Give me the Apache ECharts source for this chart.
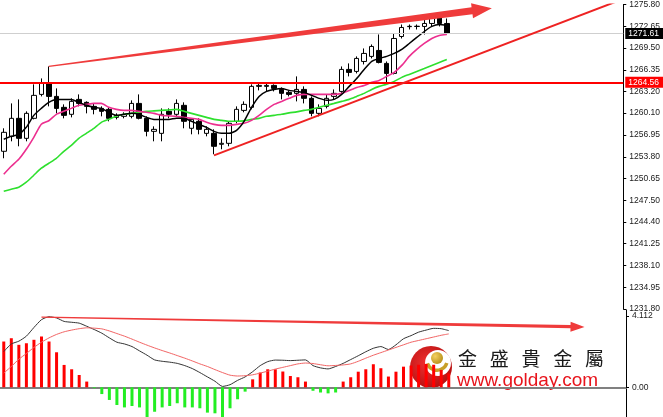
<!DOCTYPE html>
<html><head><meta charset="utf-8">
<style>html,body{margin:0;padding:0;background:#fff}#c{width:663px;height:417px}</style>
<script src="https://cdn.jsdelivr.net/npm/echarts@6/dist/echarts.min.js"></script>
</head><body><div id="c"></div>
<script>
// ---- data ----
const categories = Array.from({length: 83}, (_, i) => 'B' + (i + 1));
const opens = [1254.59,1256.75,1259.35,1256.46,1259.35,1262.81,1264.40,1262.52,1260.94,1259.93,
 1262.09,1261.66,1261.08,1260.79,1260.65,1259.49,1259.64,1259.64,1261.51,1259.35,
 1257.47,1257.18,1260.36,1259.93,1261.23,1257.91,1258.92,1257.18,1257.18,1255.60,
 1255.74,1258.92,1260.50,1260.94,1263.97,1263.97,1264.11,1263.53,1263.10,1262.96,
 1263.53,1262.24,1260.07,1261.08,1262.52,1263.24,1266.42,1266.13,1267.57,1268.30,
 1269.16,1267.29,1265.84,1271.18,1272.60,1272.62,1272.63,1273.06,1274.07,1273.06];
const closes = [1257.33,1259.35,1256.46,1260.07,1262.67,1264.40,1262.52,1260.79,1259.78,1261.80,
 1261.51,1261.08,1260.65,1260.36,1259.35,1259.78,1259.93,1261.51,1259.35,1257.47,
 1257.76,1259.93,1259.93,1261.51,1258.92,1259.20,1257.76,1257.76,1255.31,1255.74,
 1258.63,1260.65,1261.37,1263.97,1264.11,1264.11,1263.68,1262.96,1262.81,1263.53,
 1262.24,1260.07,1260.79,1262.24,1262.96,1266.42,1265.99,1268.01,1268.73,1269.74,
 1267.43,1265.84,1270.89,1272.48,1272.65,1272.66,1273.06,1274.07,1273.06,1271.61];
const lows = [1253.58,1256.03,1255.31,1256.03,1259.20,1262.52,1261.08,1260.07,1259.35,1259.49,
 1261.08,1260.07,1259.93,1259.64,1258.92,1259.20,1259.35,1259.35,1259.20,1256.75,
 1256.03,1256.03,1259.35,1259.64,1257.91,1257.04,1257.04,1256.75,1254.16,1254.88,
 1255.31,1258.63,1260.22,1260.65,1263.39,1263.24,1263.24,1262.09,1262.52,1261.80,
 1261.51,1259.64,1259.64,1260.79,1262.09,1262.81,1265.41,1265.84,1267.14,1268.01,
 1267.29,1264.40,1265.70,1270.89,1272.19,1272.19,1271.47,1272.63,1272.63,1271.47];
const highs = [1257.91,1261.51,1262.09,1260.36,1264.26,1265.12,1266.85,1263.68,1261.37,1262.24,
 1262.81,1261.80,1261.51,1261.08,1260.94,1260.07,1260.22,1261.95,1262.81,1259.64,
 1258.19,1260.79,1260.79,1262.09,1261.66,1259.35,1259.35,1258.19,1257.76,1256.46,
 1258.92,1261.08,1261.80,1264.26,1264.40,1264.40,1264.26,1263.82,1263.39,1265.41,
 1263.97,1262.52,1261.37,1262.81,1263.53,1266.85,1267.29,1268.30,1269.45,1270.03,
 1271.47,1267.57,1271.61,1272.91,1272.91,1272.91,1273.64,1274.36,1274.36,1273.78];
const maFast = [1256.32,1256.75,1257.04,1258.05,1259.78,1260.79,1261.66,1262.09,1262.09,1262.09,
 1261.66,1261.23,1260.94,1260.79,1260.22,1259.78,1259.93,1260.07,1259.93,1259.49,
 1259.20,1259.20,1259.20,1259.35,1259.35,1258.92,1258.48,1258.05,1257.47,1257.18,
 1257.18,1257.62,1258.92,1260.94,1262.52,1263.24,1263.53,1263.68,1263.39,1263.24,
 1263.10,1262.67,1262.24,1261.95,1262.09,1262.81,1263.97,1265.12,1266.42,1267.57,
 1268.01,1268.30,1268.73,1269.31,1270.17,1271.04,1271.90,1272.63,1272.91,1272.77];
const maMid = [1251.27,1252.42,1253.43,1254.88,1256.61,1258.50,1259.00,1259.93,1260.36,1260.79,
 1261.23,1261.37,1261.51,1261.51,1260.94,1260.65,1260.50,1260.50,1260.36,1260.22,
 1260.07,1259.78,1259.71,1259.64,1259.49,1259.35,1259.20,1258.77,1258.48,1258.34,
 1258.34,1258.48,1258.63,1259.06,1259.78,1260.65,1261.37,1261.80,1262.24,1262.67,
 1262.81,1262.81,1262.81,1262.81,1262.81,1262.96,1263.39,1263.82,1264.11,1264.55,
 1264.83,1265.41,1265.99,1267.00,1268.30,1269.31,1270.17,1270.89,1271.33,1271.47];
const maSlow = [1248.82,1249.11,1249.40,1250.12,1251.13,1252.14,1252.86,1253.58,1254.59,1255.45,
 1256.46,1257.18,1257.91,1258.77,1259.20,1259.64,1259.93,1260.07,1260.22,1260.36,
 1260.43,1260.50,1260.57,1260.65,1260.36,1260.07,1259.78,1259.49,1259.20,1259.06,
 1258.92,1258.92,1258.99,1259.20,1259.35,1259.64,1259.78,1259.93,1260.14,1260.29,
 1260.50,1260.65,1260.94,1261.23,1261.51,1261.80,1262.09,1262.52,1262.96,1263.53,
 1263.97,1264.26,1264.69,1265.27,1265.70,1266.13,1266.56,1267.00,1267.43,1267.86];
const histValues = [2.64,2.83,2.45,2.54,2.74,2.93,2.64,2.02,1.29,1.04,
 0.71,0.33,-0.05,-0.39,-0.73,-1.02,-1.16,-1.08,-1.16,-1.75,
 -1.41,-1.16,-1.08,-0.92,-1.16,-1.16,-1.21,-1.46,-1.5,-1.75,
 -1.21,-0.69,-0.25,0.46,0.85,1.04,1.04,0.91,0.65,0.58,
 0.33,-0.2,-0.3,-0.35,-0.3,0.33,0.58,0.9,1.04,1.33,
 1.1,0.62,0.9,1.19,1.25,1.3,1.35,1.3,1.0,0.8];
const macdLine = [2.06,2.5,2.66,2.95,3.45,3.9,4.07,4.0,3.8,3.75,
 3.7,3.52,3.33,3.12,2.85,2.6,2.5,2.35,2.1,1.85,
 1.58,1.5,1.45,1.38,1.25,1.08,0.85,0.6,0.35,0.05,
 0.15,0.4,0.6,0.9,1.25,1.48,1.57,1.56,1.54,1.56,
 1.58,1.25,1.12,1.06,1.2,1.38,1.6,1.82,2.05,2.25,
 2.35,2.18,2.45,2.8,2.98,3.18,3.3,3.4,3.38,3.27];
const signalLine = [0.82,1.2,1.62,1.95,2.3,2.6,2.85,3.05,3.2,3.3,
 3.38,3.43,3.41,3.37,3.25,3.1,2.95,2.78,2.6,2.43,
 2.27,2.12,1.98,1.83,1.68,1.52,1.35,1.2,1.02,0.85,
 0.7,0.65,0.67,0.72,0.82,0.93,1.05,1.15,1.25,1.35,
 1.4,1.37,1.3,1.24,1.26,1.29,1.35,1.5,1.68,1.85,
 2.0,2.15,2.3,2.45,2.6,2.7,2.8,2.9,3.0,3.08];
const priceTickLabels = ['1231.80','1234.95','1238.10','1241.25','1244.40','1247.50','1250.65','1253.80',
 '1256.95','1260.10','1263.20','1266.35','1269.50','1272.65','1275.80'];
const macdTickLabels = ['4.112','0.00'];
const lastPrice = 1271.61;
const levelPrice = 1264.56;
const trendLine = [[28, 1254.0], [82, 1276.4]];
const arrowMain = [[6, 1266.85, 65, 1275.27]];
const arrowMacd = [[5, 4.05, 77, 3.48]];

// ---- build ----
const candleData = opens.map((o, i) => [o, closes[i], lows[i], highs[i]]);
const priceTickVals = priceTickLabels.map(Number);
const macdTickVals = macdTickLabels.map(Number);
const labelFont = {fontSize: 8.5, fontFamily: 'Liberation Sans', color: '#1a1a1a'};

function arrowRenderer(cfg) {
  return function (params, api) {
    const a = api.coord([api.value(0), api.value(1)]);
    const b = api.coord([api.value(2), api.value(3)]);
    const dx = b[0] - a[0], dy = b[1] - a[1];
    const L = Math.hypot(dx, dy);
    const ux = dx / L, uy = dy / L, nx = -uy, ny = ux;
    const bx = b[0] - ux * cfg.head, by = b[1] - uy * cfg.head;
    const pts = [
      [a[0] + nx * cfg.w0, a[1] + ny * cfg.w0],
      [bx + nx * cfg.w1, by + ny * cfg.w1],
      [bx + nx * cfg.hw, by + ny * cfg.hw],
      [b[0], b[1]],
      [bx - nx * cfg.hw, by - ny * cfg.hw],
      [bx - nx * cfg.w1, by - ny * cfg.w1],
      [a[0] - nx * cfg.w0, a[1] - ny * cfg.w0]
    ];
    return {type: 'polygon', shape: {points: pts}, style: {fill: cfg.color}};
  };
}

const chart = echarts.init(document.getElementById('c'), null, {renderer: 'canvas'});
chart.setOption({
  animation: false,
  backgroundColor: '#ffffff',
  grid: [
    {left: -2, right: 37, top: 1, bottom: 108},
    {left: -2, right: 37, top: 310, bottom: 0}
  ],
  xAxis: [
    {type: 'category', gridIndex: 0, data: categories, boundaryGap: true, show: false},
    {type: 'category', gridIndex: 1, data: categories, boundaryGap: true, position: 'top',
     axisLine: {show: true, lineStyle: {color: '#808080', width: 2}},
     axisTick: {show: false}, axisLabel: {show: false}, splitLine: {show: false}}
  ],
  yAxis: [
    {type: 'value', gridIndex: 0, position: 'right', min: 1231.8, max: 1275.8, scale: true,
     axisLine: {show: true, lineStyle: {color: '#000', width: 1}},
     axisTick: {show: true, length: 3, customValues: priceTickVals, lineStyle: {color: '#000'}},
     axisLabel: Object.assign({customValues: priceTickVals, margin: 6,
       formatter: v => priceTickLabels[priceTickVals.indexOf(v)] || v.toFixed(2)}, labelFont),
     splitLine: {show: false}},
    {type: 'value', gridIndex: 1, position: 'right', min: -1.713, max: 4.458,
     axisLine: {show: true, lineStyle: {color: '#000', width: 1}},
     axisTick: {show: true, length: 3, customValues: macdTickVals, lineStyle: {color: '#000'}},
     axisLabel: Object.assign({customValues: macdTickVals, margin: 6,
       formatter: v => macdTickLabels[macdTickVals.indexOf(v)] || String(v)}, labelFont),
     splitLine: {show: false}}
  ],
  series: [
    {type: 'candlestick', xAxisIndex: 0, yAxisIndex: 0, data: candleData, barWidth: 5,
     itemStyle: {color: '#ffffff', color0: '#000000', borderColor: '#000000', borderColor0: '#000000', borderWidth: 1},
     markLine: {
       symbol: 'none', silent: true, animation: false,
       data: [
         {yAxis: levelPrice, lineStyle: {color: '#ff0000', width: 2, type: 'solid'},
          label: {show: true, position: 'end', distance: 2, formatter: levelPrice.toFixed(2),
                  color: '#fff', backgroundColor: '#ff0000', padding: [1, 4, 1, 3], fontSize: 8.5, fontFamily: 'Liberation Sans'}},
         {yAxis: lastPrice, lineStyle: {color: '#cfcfcf', width: 1, type: 'solid'},
          label: {show: true, position: 'end', distance: 2, formatter: lastPrice.toFixed(2),
                  color: '#fff', backgroundColor: '#000000', padding: [1, 4, 1, 3], fontSize: 8.5, fontFamily: 'Liberation Sans'}}
       ]
     }, z: 2},
    {type: 'line', xAxisIndex: 0, yAxisIndex: 0, data: maSlow, symbol: 'none', smooth: 0.2,
     lineStyle: {color: '#2ee02e', width: 1.6}, z: 3},
    {type: 'line', xAxisIndex: 0, yAxisIndex: 0, data: maMid, symbol: 'none', smooth: 0.2,
     lineStyle: {color: '#ec2f8f', width: 1.6}, z: 3},
    {type: 'line', xAxisIndex: 0, yAxisIndex: 0, data: maFast, symbol: 'none', smooth: 0.2,
     lineStyle: {color: '#000000', width: 1.5}, z: 4},
    {type: 'line', xAxisIndex: 0, yAxisIndex: 0, data: trendLine, symbol: 'none', clip: true,
     lineStyle: {color: '#ee2222', width: 2}, z: 5},
    {type: 'custom', xAxisIndex: 0, yAxisIndex: 0, data: arrowMain, encode: {x: [0, 2], y: [1, 3]},
     renderItem: arrowRenderer({w0: 0.6, w1: 3.6, hw: 7.5, head: 20, color: '#ef3b3b'}), clip: false, z: 6},
    {type: 'bar', xAxisIndex: 1, yAxisIndex: 1, data: histValues, barWidth: 3,
     itemStyle: {color: p => p.value >= 0 ? '#ff0000' : '#22ee22'}, z: 2},
    {type: 'line', xAxisIndex: 1, yAxisIndex: 1, data: macdLine, symbol: 'none', smooth: 0.2,
     lineStyle: {color: '#333333', width: 1}, z: 3},
    {type: 'line', xAxisIndex: 1, yAxisIndex: 1, data: signalLine, symbol: 'none', smooth: 0.2,
     lineStyle: {color: '#f26464', width: 1}, z: 3},
    {type: 'custom', xAxisIndex: 1, yAxisIndex: 1, data: arrowMacd, encode: {x: [0, 2], y: [1, 3]},
     renderItem: arrowRenderer({w0: 0.6, w1: 1.6, hw: 5, head: 14, color: '#ef3b3b'}), clip: false, z: 6}
  ],
  graphic: [
    {type: 'group', z: 100, children: [
      {type: 'circle', shape: {cx: 431, cy: 367, r: 21},
       style: {fill: new echarts.graphic.RadialGradient(0.4, 0.4, 0.8, [{offset: 0, color: '#f03030'}, {offset: 1, color: '#a80808'}])}},
      {type: 'circle', shape: {cx: 438, cy: 363, r: 13}, style: {fill: '#ffffff'}},
      {type: 'circle', shape: {cx: 437, cy: 358, r: 6},
       style: {fill: new echarts.graphic.RadialGradient(0.35, 0.35, 0.8, [{offset: 0, color: '#f4d060'}, {offset: 1, color: '#b08810'}])}},
      {type: 'sector', shape: {cx: 437, cy: 360, r: 12, r0: 8.5, startAngle: 0.3, endAngle: 2.8},
       style: {fill: '#c8a028'}},
      {type: 'text', style: {text: '金   盛   貴   金   屬', x: 458, y: 349, fill: '#1a1a1a',
        font: '19px "Noto Sans CJK TC"'}},
      {type: 'text', style: {text: 'www.golday.com', x: 457, y: 371, fill: '#e8141c',
        font: '19px "Liberation Sans"'}}
    ]}
  ]
});
</script></body></html>
